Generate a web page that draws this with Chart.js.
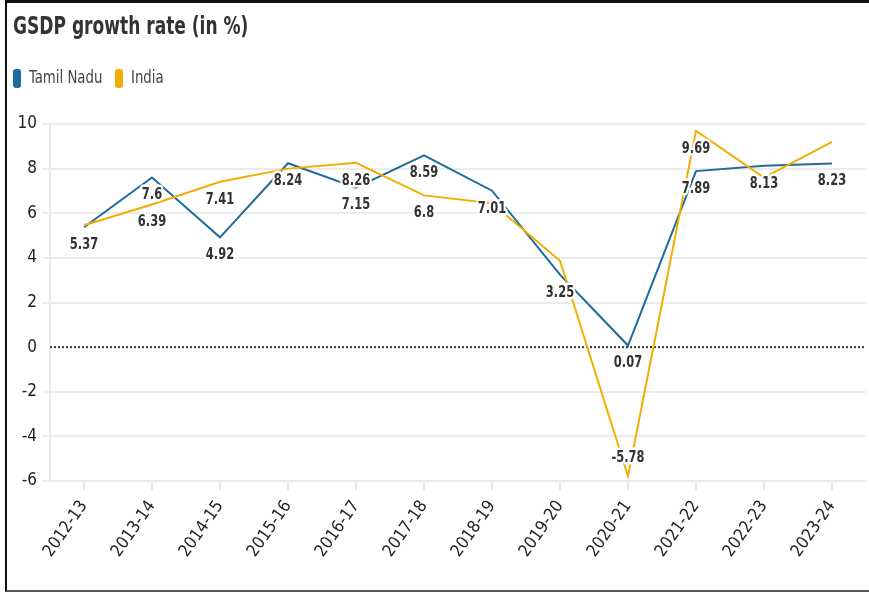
<!DOCTYPE html>
<html>
<head>
<meta charset="utf-8">
<script src="https://cdn.jsdelivr.net/npm/chart.js@4.4.1/dist/chart.umd.min.js"></script>
<style>
  html, body { margin: 0; padding: 0; background: #fff; }
  body {
    width: 869px; height: 593px; position: relative; overflow: hidden;
    font-family: "Liberation Sans Narrow", "DejaVu Sans Condensed", Roboto, sans-serif;
  }
  #chart { position: absolute; left: 0; top: 0; }
  #frame {
    position: absolute; left: 5px; top: 0; width: 864px; height: 592px; box-sizing: border-box;
    border-left: 2px solid #111; border-top: 3px solid #111; border-bottom: 2px solid #555;
    pointer-events: none;
  }
  #title {
    position: absolute; left: 13px; top: 12px; font-size: 24px; font-weight: bold; color: #333;
    white-space: nowrap; transform: scaleX(0.79); transform-origin: 0 0;
  }
  .box { position: absolute; top: 69px; width: 8px; height: 19px; border-radius: 3px; }
  .name {
    position: absolute; top: 67px; font-size: 17px; color: #444; white-space: nowrap;
    transform: scaleX(0.87); transform-origin: 0 0;
  }
</style>
</head>
<body>
<canvas id="chart" width="869" height="593"></canvas>
<div id="title">GSDP growth rate (in %)</div>
<div id="legend"></div>
<div id="frame"></div>
<script>
// Datos del gráfico
const categories = ['2012-13', '2013-14', '2014-15', '2015-16', '2016-17', '2017-18',
                    '2018-19', '2019-20', '2020-21', '2021-22', '2022-23', '2023-24'];
const tamilNadu = [5.37, 7.6, 4.92, 8.24, 7.15, 8.59, 7.01, 3.25, 0.07, 7.89, 8.13, 8.23];
const india = [5.46, 6.39, 7.41, 8.0, 8.26, 6.8, 6.45, 3.87, -5.78, 9.69, 7.6, 9.2];
// which points carry a value label
const tamilNaduLabels = [true, true, true, true, true, true, true, true, true, true, true, true];
const indiaLabels = [false, true, true, false, true, true, false, false, true, true, false, false];
const yTicks = [-6, -4, -2, 0, 2, 4, 6, 8, 10];

const FONT = '"Liberation Sans Narrow", "DejaVu Sans Condensed", Roboto, sans-serif';
const BLUE = '#1f6b9b';
const YELLOW = '#f2ad00';

const series = [
    { name: 'Tamil Nadu', data: tamilNadu, color: BLUE, labels: tamilNaduLabels, order: 1 },
    { name: 'India', data: india, color: YELLOW, labels: indiaLabels, order: 0 }
];

// Leyenda en HTML (caja + nombre)
const legend = document.getElementById('legend');
const legendX = [13, 115];
series.forEach((s, i) => {
    const box = document.createElement('div');
    box.className = 'box';
    box.style.left = legendX[i] + 'px';
    box.style.background = s.color;
    const name = document.createElement('div');
    name.className = 'name';
    name.style.left = (legendX[i] + 16) + 'px';
    name.textContent = s.name;
    legend.appendChild(box);
    legend.appendChild(name);
});

// dotted zero line
const zeroLine = {
    id: 'zeroLine',
    beforeDatasetsDraw(chart) {
        const { ctx, chartArea, scales } = chart;
        const y = scales.y.getPixelForValue(0);
        ctx.save();
        ctx.strokeStyle = '#333';
        ctx.lineWidth = 2;
        ctx.setLineDash([2, 2]);
        ctx.beginPath();
        ctx.moveTo(chartArea.left, y);
        ctx.lineTo(chartArea.right, y);
        ctx.stroke();
        ctx.restore();
    }
};

// value labels under each point (above for negatives), with white halo
const valueLabels = {
    id: 'valueLabels',
    afterDatasetsDraw(chart) {
        const ctx = chart.ctx;
        series.forEach((s, d) => {
            const meta = chart.getDatasetMeta(d);
            s.data.forEach((v, i) => {
                if (!s.labels[i]) return;
                const pt = meta.data[i];
                const y = v < 0 ? pt.y - 18 : pt.y + 18;
                ctx.save();
                ctx.translate(pt.x, y);
                ctx.scale(0.85, 1);
                ctx.font = 'bold 15px ' + FONT;
                ctx.textAlign = 'center';
                ctx.textBaseline = 'middle';
                ctx.lineJoin = 'round';
                ctx.strokeStyle = '#fff';
                ctx.lineWidth = 5;
                ctx.strokeText(String(v), 0, 0);
                ctx.fillStyle = '#333';
                ctx.fillText(String(v), 0, 0);
                ctx.restore();
            });
        });
    }
};

Chart.defaults.font.family = FONT;

new Chart(document.getElementById('chart'), {
    type: 'line',
    data: {
        labels: categories,
        datasets: series.map(s => ({
            label: s.name,
            data: s.data,
            borderColor: s.color,
            backgroundColor: s.color,
            borderWidth: 2,
            tension: 0,
            pointRadius: 0,
            fill: false,
            order: s.order
        }))
    },
    options: {
        responsive: false,
        animation: false,
        layout: { padding: { top: 124, left: 0, right: 3, bottom: 0 } },
        plugins: {
            legend: { display: false },
            tooltip: { enabled: false }
        },
        scales: {
            x: {
                offset: true,
                grid: { drawOnChartArea: false, tickLength: 9, color: '#e6e6e6', lineWidth: 2 },
                border: { display: false },
                ticks: {
                    autoSkip: false, minRotation: 55, maxRotation: 55, padding: 7,
                    color: '#222', font: { size: 17 }
                },
                afterFit(scale) { scale.height = 112; }
            },
            y: {
                min: yTicks[0],
                max: yTicks[yTicks.length - 1],
                afterBuildTicks(scale) { scale.ticks = yTicks.map(v => ({ value: v })); },
                grid: {
                    color: c => (c.tick && c.tick.value === 0) ? 'rgba(0,0,0,0)' : '#ebebeb',
                    lineWidth: 2,
                    tickLength: 8
                },
                border: { display: true, color: '#ebebeb', width: 2 },
                ticks: { color: '#222', padding: 5, font: { size: 17 } },
                afterFit(scale) { scale.width = 50; }
            }
        }
    },
    plugins: [zeroLine, valueLabels]
});
</script>
</body>
</html>
